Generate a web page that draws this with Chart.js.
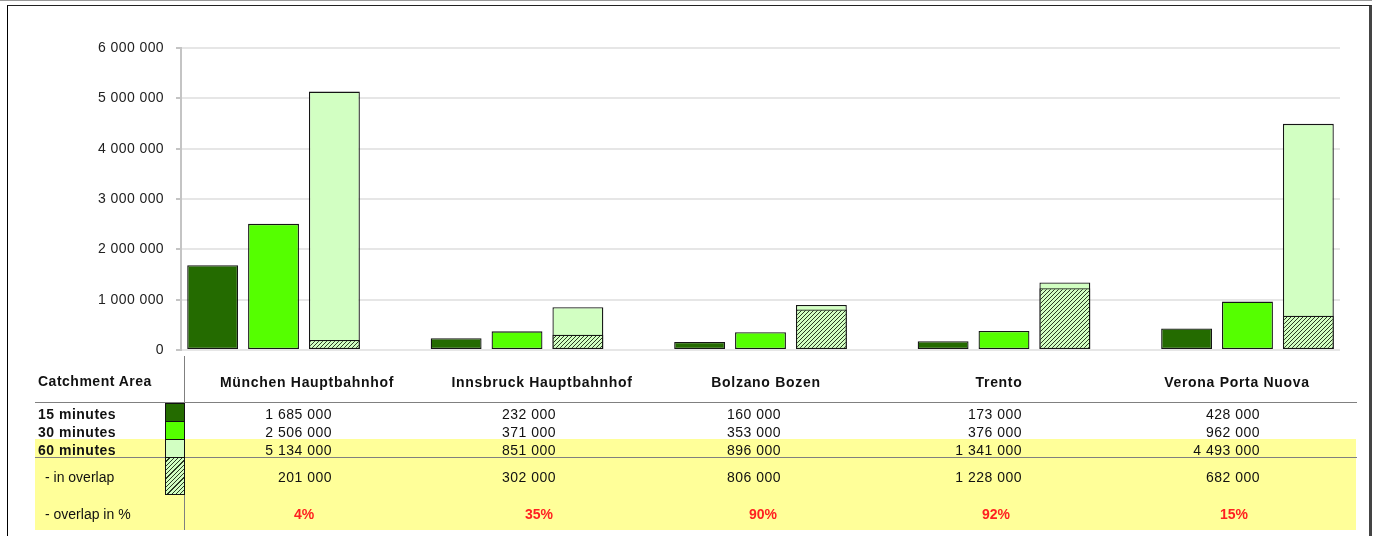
<!DOCTYPE html>
<html lang="en">
<head>
  <meta charset="UTF-8">
  <title>Catchment Area</title>
  <script src="https://cdn.jsdelivr.net/npm/chart.js"></script>
  <style>
    body { margin: 0; background: #fff; font-family: "Liberation Sans", Arial, sans-serif; }
    #page { position: relative; width: 1378px; height: 536px; overflow: hidden; }
    #topline { position: absolute; left: 0; top: 0; width: 1372px; height: 1px; background: #999; }
    #frame { position: absolute; left: 7px; top: 5px; width: 1361px; height: 560px;
             border-left: 1px solid #000; border-top: 1px solid #222; border-right: 3px solid #444; }
    canvas { position: absolute; left: 0; top: 0; }
    .t { position: absolute; white-space: nowrap; font-size: 14px; color: #111; line-height: 16px; }
    .b { font-weight: bold; letter-spacing: 0.5px; }
    .h { font-weight: bold; letter-spacing: 0.7px; }
    .n { letter-spacing: 0.5px; }
    .pct { color: #ff2020; font-weight: bold; }
    .rule { position: absolute; background: #808080; }
    .sw { position: absolute; left: 165px; width: 18px; border: 1px solid #111; box-sizing: content-box; }
  </style>
</head>
<body>
<div id="page">
  <div id="topline"></div>
  <div id="frame"></div>
  <div id="band" style="position:absolute;left:35px;top:439px;width:1321px;height:91px;background:#ffff99;"></div>
  <canvas id="myChart" width="1378" height="536"></canvas>
  <div id="table"></div>
</div>

<script>
  // Stations and catchment populations
  var categories = ['München Hauptbahnhof', 'Innsbruck Hauptbahnhof', 'Bolzano Bozen', 'Trento', 'Verona Porta Nuova'];
  var min15 = [1685000, 232000, 160000, 173000, 428000];
  var min30 = [2506000, 371000, 353000, 376000, 962000];
  var min60 = [5134000, 851000, 896000, 1341000, 4493000];
  var inOverlap = [201000, 302000, 806000, 1228000, 682000];
  var overlapPct = ['4%', '35%', '90%', '92%', '15%'];
  var yTicks = [0, 1000000, 2000000, 3000000, 4000000, 5000000, 6000000];

  var dark = '#246b00', bright = '#55ff00', light = '#d2ffc2';

  function fmt(v) {
    return String(v).replace(/\B(?=(\d{3})+(?!\d))/g, ' ');
  }

  // diagonal hatch for the overlap part
  function hatch() {
    var c = document.createElement('canvas');
    c.width = 4; c.height = 4;
    var g = c.getContext('2d');
    g.fillStyle = light;
    g.fillRect(0, 0, 4, 4);
    g.strokeStyle = '#2b3d22';
    g.lineWidth = 1;
    g.beginPath();
    g.moveTo(-1, 5); g.lineTo(5, -1);
    g.moveTo(-1, 1); g.lineTo(1, -1);
    g.moveTo(3, 5); g.lineTo(5, 3);
    g.stroke();
    return g.createPattern(c, 'repeat');
  }

  function points(arr) {
    return arr.map(function (v, i) { return { x: i, y: v }; });
  }

  var common = { borderColor: '#151515', borderWidth: 1.3, borderSkipped: false,
                 categoryPercentage: 0.75, barPercentage: 0.836 };

  var ctx = document.getElementById('myChart').getContext('2d');
  var myChart = new Chart(ctx, {
    type: 'bar',
    data: {
      datasets: [
        Object.assign({ label: '15 minutes', data: points(min15), backgroundColor: dark, stack: 'a', order: 0 }, common),
        Object.assign({ label: '30 minutes', data: points(min30), backgroundColor: bright, stack: 'b', order: 0 }, common),
        Object.assign({ label: '- in overlap', data: points(inOverlap), backgroundColor: hatch(), stack: 'c', order: 1 }, common),
        Object.assign({ label: '60 minutes', data: points(min60), backgroundColor: light, stack: 'c', order: 2 }, common)
      ]
    },
    options: {
      responsive: false,
      animation: false,
      layout: { padding: { left: 0, right: 38, top: 48, bottom: 186 } },
      plugins: { legend: { display: false }, tooltip: { enabled: false } },
      scales: {
        x: {
          type: 'linear', min: -0.38, max: 4.38, offset: false, display: false,
          afterBuildTicks: function (s) { s.ticks = categories.map(function (c, i) { return { value: i }; }); }
        },
        y: {
          stacked: false,
          min: 0,
          max: 6000000,
          afterBuildTicks: function (s) { s.ticks = yTicks.map(function (v) { return { value: v }; }); },
          afterFit: function (s) { s.width = 181; },
          ticks: { padding: 12, color: '#222', font: { family: 'Liberation Sans', size: 14 },
                   callback: function (v) { return fmt(v); } },
          grid: { color: '#e6e6e6', lineWidth: 2, tickLength: 5, tickColor: '#c4c4c4' },
          border: { color: '#c4c4c4', width: 2 }
        }
      }
    },
    plugins: [{
      id: 'tickSpacing',
      beforeDraw: function (chart) { chart.ctx.letterSpacing = '0.4px'; }
    }]
  });

  // table under the plot
  var colCenter = [307, 542, 766, 999, 1237];
  var valRight = [332, 556, 781, 1022, 1260];
  var tbl = document.getElementById('table');

  function put(text, cls, x, yc, align) {
    var d = document.createElement('div');
    d.className = 't ' + (cls || '');
    d.textContent = text;
    d.style.top = (yc - 8) + 'px';
    if (align === 'right') { d.style.right = (1378 - x) + 'px'; }
    else if (align === 'center') { d.style.left = (x - 200) + 'px'; d.style.width = '400px'; d.style.textAlign = 'center'; }
    else { d.style.left = x + 'px'; }
    tbl.appendChild(d);
  }

  function rule(x, y, w, h) {
    var d = document.createElement('div');
    d.className = 'rule';
    d.style.left = x + 'px'; d.style.top = y + 'px';
    d.style.width = w + 'px'; d.style.height = h + 'px';
    tbl.appendChild(d);
  }

  rule(35, 402, 1322, 1);
  rule(35, 457, 1322, 1);
  rule(184, 356, 1, 174);

  put('Catchment Area', 'b', 38, 381);
  put('15 minutes', 'b', 38, 414);
  put('30 minutes', 'b', 38, 432);
  put('60 minutes', 'b', 38, 450);
  put('- in overlap', '', 45, 477);
  put('- overlap in %', '', 45, 514);

  var swatches = [[403, 17, dark], [421, 17, bright], [439, 17, light],
                  [457, 36, 'repeating-linear-gradient(135deg, #d2ffc2 0 2px, #2b3d22 2px 3px)']];
  swatches.forEach(function (s) {
    var d = document.createElement('div');
    d.className = 'sw';
    d.style.top = s[0] + 'px';
    d.style.height = s[1] + 'px';
    d.style.background = s[2];
    tbl.appendChild(d);
  });

  categories.forEach(function (name, i) {
    put(name, 'h', colCenter[i], 382, 'center');
    put(fmt(min15[i]), 'n', valRight[i], 414, 'right');
    put(fmt(min30[i]), 'n', valRight[i], 432, 'right');
    put(fmt(min60[i]), 'n', valRight[i], 450, 'right');
    put(fmt(inOverlap[i]), 'n', valRight[i], 477, 'right');
    put(overlapPct[i], 'pct', colCenter[i] - 3, 514, 'center');
  });
</script>
</body>
</html>
